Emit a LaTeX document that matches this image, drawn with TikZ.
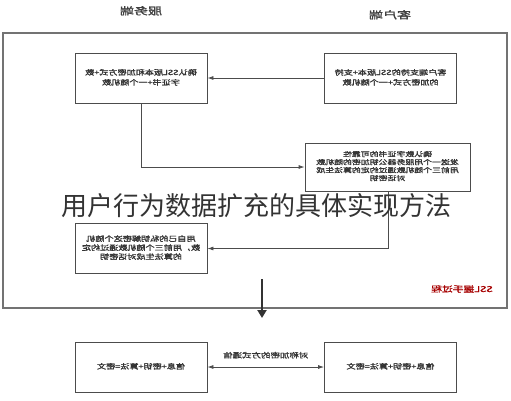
\documentclass[tikz,border=0pt]{standalone}
\usepackage{graphicx}
\usepackage{fontspec}
\setmainfont{Noto Sans CJK SC}
\newfontfamily\cjk{Noto Sans CJK SC}
\newfontfamily\cjkb[FakeBold=1.5]{Noto Sans CJK SC}
\usetikzlibrary{arrows.meta}

% mirrored (and widened) text, as the picture prints it
\newcommand{\mtext}[2][1.3]{\scalebox{-#1}[1]{\begin{tabular}{@{}c@{}}#2\end{tabular}}}

\tikzset{
    stepbox/.style={draw=black!70, line width=0.8pt, minimum width=132pt, minimum height=50pt,
        inner sep=0pt, font=\cjkb\fontsize{7}{10}\selectfont, text=black!80},
    flow/.style={draw=black!70, line width=0.8pt, -{Latex[length=6pt,width=4pt]}},
}

\begin{document}
\begin{tikzpicture}[x=1pt, y=-1pt]
        \useasboundingbox (0,0) rectangle (511,400);
        % SSL handshake frame
        \draw[black!55, line width=1.3pt] (3,33) rectangle (507,308);
        \node[font=\cjkb\fontsize{10}{11}\selectfont, text=black!75] (srv) at (141,12) {\mtext[1.4]{服务端}};
        \node[font=\cjkb\fontsize{10}{11}\selectfont, text=black!75] (cli) at (390,16) {\mtext[1.4]{客户端}};
        \node[stepbox] (a) at (141,78) {\mtext{确认SSL版本和加密方式+数\\字证书+一个随机数}};
        \node[stepbox] (b) at (390.5,78) {\mtext{客户端支持的SSL版本+支持\\的加密方式+一个随机数}};
        \node[stepbox, minimum width=165pt, minimum height=48pt, font=\cjkb\fontsize{6.6}{8}\selectfont] (c) at (387.5,167)
            {\mtext[1.35]{确认数字证书的可靠性\\发送一个用服务器公钥加密的随机数\\用前三个随机数通过约定的算法生成\\对话密钥}};
        \node[stepbox, font=\cjkb\fontsize{7}{9}\selectfont] (d) at (141,248.5) {\mtext{用自己的私钥解密这个随机\\数，用前三个随机数通过约定\\的算法生成对话密钥}};
        \node[font=\cjkb\fontsize{8}{9}\selectfont, text=red!65!black] (ssl) at (462,290) {\mtext[1.35]{SSL握手过程}};
        \draw[flow] (b) -- (a);
        \draw[flow] (a.south) |- (c.west);
        \draw[flow] (c.south -| 388,0) |- (d.east);
        % after the handshake
        \coordinate (top) at (262,279);
        \coordinate (bot) at (262,318);
        \draw[black!80, line width=2.5pt, -{Triangle[length=8pt,width=9pt]}] (top) -- (bot);
        \node[stepbox] (e) at (141,367) {\mtext{信息+密钥+算法=密文}};
        \node[stepbox] (f) at (390.5,367) {\mtext{信息+密钥+算法=密文}};
        \draw[flow, {Latex[length=6pt,width=4pt]}-{Latex[length=6pt,width=4pt]}] (e) -- (f)
            node[midway, above, yshift=3pt, font=\cjkb\fontsize{7}{8}\selectfont, text=black!80] {\mtext[1.35]{对称加密的方式通信}};
        % overlay title
        \node[font=\cjk\fontsize{26}{28}\selectfont, text=black!80, inner sep=0pt] (title) at (256,206) {用户行为数据扩充的具体实现方法};
    \end{tikzpicture}
\end{document}
